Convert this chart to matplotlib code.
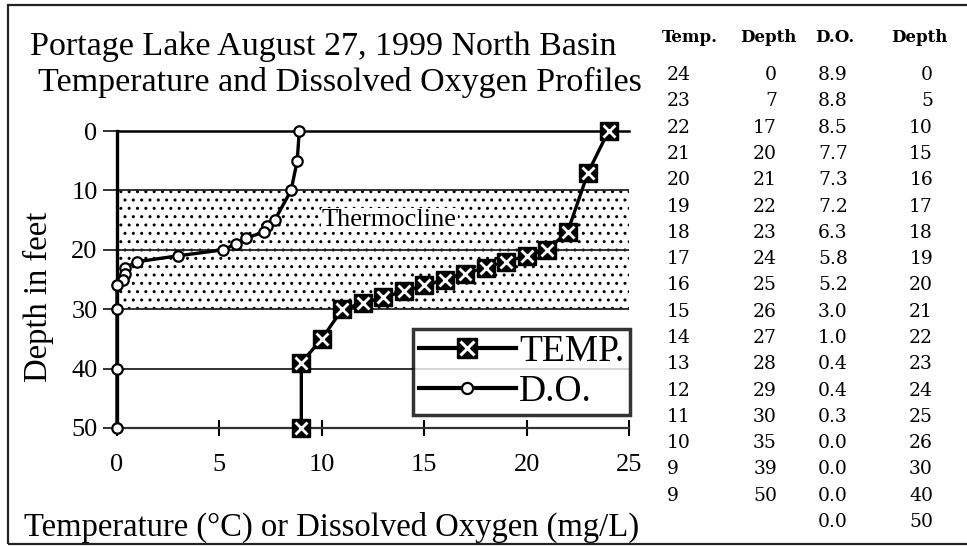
import matplotlib
matplotlib.use("Agg")
import matplotlib.pyplot as plt
from matplotlib.lines import Line2D
from matplotlib.patches import Rectangle
from matplotlib.legend_handler import HandlerTuple

plt.rcParams['font.family'] = ['Liberation Serif', 'DejaVu Serif']
plt.rcParams['hatch.color'] = 'black'
plt.rcParams['hatch.linewidth'] = 1.0

# profile data (same as the table on the right)
temp = [24, 23, 22, 21, 20, 19, 18, 17, 16, 15, 14, 13, 12, 11, 10, 9, 9]
temp_depth = [0, 7, 17, 20, 21, 22, 23, 24, 25, 26, 27, 28, 29, 30, 35, 39, 50]
do = [8.9, 8.8, 8.5, 7.7, 7.3, 7.2, 6.3, 5.8, 5.2, 3.0, 1.0, 0.4, 0.4, 0.3, 0.0, 0.0, 0.0, 0.0]
do_depth = [0, 5, 10, 15, 16, 17, 18, 19, 20, 21, 22, 23, 24, 25, 26, 30, 40, 50]

# thermocline layer (feet)
thermo_top = 10
thermo_bottom = 30

x_ticks = [0, 5, 10, 15, 20, 25]
y_ticks = [0, 10, 20, 30, 40, 50]

W, H = 967, 546
fig = plt.figure(figsize=(W / 100, H / 100), dpi=100)

# outer frame
fig.patches.append(Rectangle((8 / W, 1 - 544 / H), 1.2, (544 - 5) / H,
                             transform=fig.transFigure, fill=False,
                             edgecolor='#222222', linewidth=1.6))

ax = fig.add_axes([117 / W, 1 - 428 / H, (629 - 117) / W, (428 - 131) / H])
ax.set_xlim(0, 25)
ax.set_ylim(50, 0)

# thermocline band
ax.add_patch(Rectangle((0, thermo_top), 25, thermo_bottom - thermo_top,
                       facecolor='white', edgecolor='black', linewidth=0,
                       hatch='..', zorder=0.5))
ax.text(13.3, 15, 'Thermocline', ha='center', va='center', fontsize=19,
        bbox=dict(facecolor='white', edgecolor='none', pad=0.5), zorder=1)

ax.yaxis.grid(True, color='#222222', linewidth=1.3)
ax.set_axisbelow(True)

ax.plot(temp, temp_depth, color='black', linewidth=2.4, marker='s',
        markersize=13, markerfacecolor='black', markeredgecolor='black',
        clip_on=False, zorder=3)
ax.plot(temp, temp_depth, linestyle='none', marker='x', markersize=9,
        markeredgecolor='white', markeredgewidth=2, clip_on=False, zorder=4)
ax.plot(do, do_depth, color='black', linewidth=2.4, marker='o',
        markersize=7.5, markerfacecolor='white', markeredgecolor='black',
        markeredgewidth=1.6, clip_on=False, zorder=3)

ax.set_xticks(x_ticks)
ax.set_yticks(y_ticks)
ax.tick_params(axis='x', direction='inout', length=12, width=1.5,
               labelsize=19, pad=13, color='black')
ax.tick_params(axis='y', direction='out', length=10, width=1.3,
               labelsize=19, pad=4, color='#222222')

ax.spines['right'].set_visible(False)
ax.spines['left'].set_linewidth(2.4)
ax.spines['top'].set_linewidth(1.8)
ax.spines['bottom'].set_linewidth(1.6)
ax.spines['bottom'].set_color('#333333')

ax.set_xlabel('Temperature (°C) or Dissolved Oxygen (mg/L)', fontsize=23.5, va='center')
ax.xaxis.set_label_coords(332 / W, 1 - 527 / H, transform=fig.transFigure)
ax.set_ylabel('Depth in feet', fontsize=23.5, va='center')
ax.yaxis.set_label_coords(38 / W, 1 - 297 / H, transform=fig.transFigure)

fig.text(323 / W, 1 - 47 / H, 'Portage Lake August 27, 1999 North Basin',
         ha='center', va='center', fontsize=24.5)
fig.text(340 / W, 1 - 82 / H, 'Temperature and Dissolved Oxygen Profiles',
         ha='center', va='center', fontsize=24.5)

# legend
h_temp = (Line2D([], [], color='black', linewidth=3, marker='s', markersize=15,
                 markerfacecolor='black'),
          Line2D([], [], linestyle='none', marker='x', markersize=10,
                 markeredgecolor='white', markeredgewidth=2.2))
h_do = Line2D([], [], color='black', linewidth=3, marker='o', markersize=8,
              markerfacecolor='white', markeredgecolor='black', markeredgewidth=1.6)
leg = ax.legend([h_temp, h_do], ['TEMP.', 'D.O.'],
                handler_map={tuple: HandlerTuple(ndivide=1, pad=0)},
                loc='upper left', bbox_to_anchor=(413 / W, 1 - 329 / H),
                bbox_transform=fig.transFigure, fontsize=27, frameon=True,
                fancybox=False, handlelength=2.6, handletextpad=0.08,
                borderpad=0.15, labelspacing=0.15, borderaxespad=0)
leg.get_frame().set_edgecolor('black')
leg.get_frame().set_linewidth(2.5)
leg.set_zorder(5)

# data table on the right
row_y = [75 + 26.3 * i for i in range(len(do_depth))]
head_y = 38
hkw = dict(family=['DejaVu Serif'], fontsize=12, va='center', fontweight='bold')
tkw = dict(family=['DejaVu Serif'], fontsize=13.5, va='center')
fig.text(662 / W, 1 - head_y / H, 'Temp.', ha='left', **hkw)
fig.text(797 / W, 1 - head_y / H, 'Depth', ha='right', **hkw)
fig.text(815 / W, 1 - head_y / H, 'D.O.', ha='left', **hkw)
fig.text(948 / W, 1 - head_y / H, 'Depth', ha='right', **hkw)
for i in range(len(temp)):
    fig.text(667 / W, 1 - row_y[i] / H, str(temp[i]), ha='left', **tkw)
    fig.text(777 / W, 1 - row_y[i] / H, str(temp_depth[i]), ha='right', **tkw)
for i in range(len(do)):
    fig.text(818 / W, 1 - row_y[i] / H, '%.1f' % do[i], ha='left', **tkw)
    fig.text(933 / W, 1 - row_y[i] / H, str(do_depth[i]), ha='right', **tkw)

fig.savefig('out.png', dpi=100)
